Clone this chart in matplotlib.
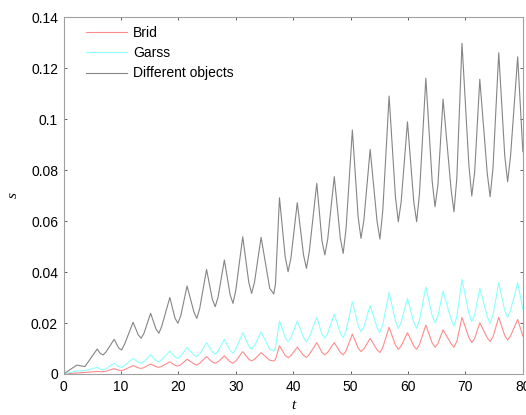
import matplotlib
matplotlib.use("Agg")
import matplotlib.pyplot as plt

# Shared sample times (peaks, troughs and trough shoulders)
t = [0, 2.3, 3.7, 5.85,
     6.4, 6.9, 7.4, 8.8,
     9.6, 10.1, 10.6, 12.1,
     13.0, 13.5, 14.0, 15.15,
     16.1, 16.6, 17.1, 18.5,
     19.4, 19.9, 20.4, 21.5,
     22.7, 23.2, 23.7, 24.9,
     25.9, 26.4, 26.9, 28.0,
     29.0, 29.5, 30.0, 31.2,
     32.25, 32.75, 33.25, 34.4,
     35.9, 36.6, 36.9, 37.6,
     38.6, 39.1, 39.6, 40.7,
     41.8, 42.3, 42.8, 44.1,
     45.0, 45.5, 46.0, 47.15,
     48.2, 48.7, 49.2, 50.3,
     51.3, 51.8, 52.3, 53.4,
     54.6, 55.1, 55.6, 56.7,
     57.8, 58.3, 58.8, 59.9,
     61.0, 61.5, 62.0, 63.1,
     64.2, 64.7, 65.2, 66.1,
     67.5, 68.0, 68.5, 69.4,
     70.6, 71.1, 71.6, 72.5,
     73.8, 74.3, 74.8, 75.8,
     76.85, 77.35, 77.85, 79.1,
     80]

different = [0, 0.0035, 0.0029, 0.0098,
             0.0080, 0.0075, 0.0087, 0.0136,
             0.0102, 0.0094, 0.0116, 0.0203,
             0.0153, 0.0140, 0.0160, 0.0238,
             0.0176, 0.0160, 0.0188, 0.0300,
             0.0219, 0.0199, 0.0228, 0.0345,
             0.0243, 0.0218, 0.0256, 0.0410,
             0.0293, 0.0264, 0.0301, 0.0447,
             0.0311, 0.0277, 0.0329, 0.0538,
             0.0360, 0.0316, 0.0360, 0.0536,
             0.0336, 0.0314, 0.0352, 0.0691,
             0.0459, 0.0401, 0.0455, 0.0672,
             0.0466, 0.0414, 0.0481, 0.0748,
             0.0523, 0.0467, 0.0528, 0.0774,
             0.0533, 0.0473, 0.0570, 0.0957,
             0.0617, 0.0532, 0.0602, 0.0881,
             0.0599, 0.0529, 0.0641, 0.1090,
             0.0696, 0.0597, 0.0675, 0.0989,
             0.0675, 0.0597, 0.0710, 0.1160,
             0.0757, 0.0656, 0.0740, 0.1078,
             0.0724, 0.0636, 0.0768, 0.1297,
             0.0818, 0.0698, 0.0790, 0.1156,
             0.0787, 0.0695, 0.0808, 0.1260,
             0.0855, 0.0754, 0.0852, 0.1244,
             0.0872]

garss = [0, 0.0012, 0.0013, 0.0026,
         0.0018, 0.0016, 0.0021, 0.0042,
         0.0029, 0.0026, 0.0033, 0.0061,
         0.0046, 0.0042, 0.0049, 0.0075,
         0.0053, 0.0048, 0.0056, 0.0090,
         0.0067, 0.0061, 0.0070, 0.0104,
         0.0075, 0.0068, 0.0079, 0.0123,
         0.0087, 0.0078, 0.0090, 0.0136,
         0.0092, 0.0081, 0.0097, 0.0162,
         0.0110, 0.0097, 0.0111, 0.0165,
         0.0098, 0.0090, 0.0102, 0.0208,
         0.0143, 0.0127, 0.0143, 0.0207,
         0.0143, 0.0127, 0.0146, 0.0222,
         0.0156, 0.0140, 0.0159, 0.0235,
         0.0161, 0.0142, 0.0170, 0.0284,
         0.0190, 0.0166, 0.0186, 0.0268,
         0.0183, 0.0162, 0.0194, 0.0320,
         0.0207, 0.0179, 0.0203, 0.0297,
         0.0203, 0.0179, 0.0212, 0.0342,
         0.0229, 0.0201, 0.0226, 0.0325,
         0.0215, 0.0188, 0.0225, 0.0371,
         0.0238, 0.0205, 0.0231, 0.0336,
         0.0226, 0.0199, 0.0231, 0.0358,
         0.0249, 0.0222, 0.0249, 0.0358,
         0.0254]

brid = [0, 0.0004, 0.0006, 0.0010,
        0.0009, 0.0009, 0.0011, 0.0021,
        0.0015, 0.0013, 0.0017, 0.0033,
        0.0024, 0.0022, 0.0025, 0.0039,
        0.0029, 0.0026, 0.0030, 0.0048,
        0.0034, 0.0031, 0.0036, 0.0058,
        0.0040, 0.0035, 0.0042, 0.0068,
        0.0047, 0.0042, 0.0048, 0.0071,
        0.0048, 0.0042, 0.0051, 0.0088,
        0.0058, 0.0051, 0.0058, 0.0084,
        0.0054, 0.0051, 0.0057, 0.0111,
        0.0073, 0.0064, 0.0072, 0.0105,
        0.0073, 0.0065, 0.0077, 0.0123,
        0.0085, 0.0075, 0.0085, 0.0123,
        0.0085, 0.0075, 0.0091, 0.0157,
        0.0102, 0.0088, 0.0098, 0.0140,
        0.0095, 0.0084, 0.0104, 0.0183,
        0.0114, 0.0097, 0.0110, 0.0162,
        0.0110, 0.0097, 0.0116, 0.0192,
        0.0122, 0.0105, 0.0119, 0.0173,
        0.0119, 0.0105, 0.0128, 0.0222,
        0.0143, 0.0123, 0.0139, 0.0201,
        0.0142, 0.0127, 0.0146, 0.0222,
        0.0151, 0.0133, 0.0149, 0.0214,
        0.0149]

labels = ["Brid", "Garss", "Different objects"]
xticks = [0, 10, 20, 30, 40, 50, 60, 70, 80]
yticks = [0, 0.02, 0.04, 0.06, 0.08, 0.10, 0.12, 0.14]
yticklabels = ["0", "0.02", "0.04", "0.06", "0.08", "0.1", "0.12", "0.14"]

plt.rcParams['font.family'] = ['Liberation Sans', 'DejaVu Sans']

fig = plt.figure(figsize=(5.26, 4.15), dpi=100)
ax = fig.add_axes([0.121, 0.0988, 0.873, 0.8602])

ax.plot(t, brid, color='#ff8c8c', lw=0.8, label=labels[0])
ax.plot(t, garss, color='#8cffff', lw=0.8, label=labels[1])
ax.plot(t, different, color='#858585', lw=0.8, label=labels[2])

ax.set_xlim(0, 80)
ax.set_ylim(0, 0.14)
ax.set_xticks(xticks)
ax.set_xticklabels([str(v) for v in xticks])
ax.set_yticks(yticks)
ax.set_yticklabels(yticklabels)

ax.tick_params(direction='in', length=2.5, width=0.6, top=True, right=True,
               labelsize=10, colors='#444444', labelcolor='black', pad=4)
for sp in ax.spines.values():
    sp.set_color('#a0a0a0')
    sp.set_linewidth(0.8)

ax.set_xlabel('t', fontsize=11, style='italic', family='Liberation Serif', labelpad=4)
ax.set_ylabel('s', fontsize=11, style='italic', family='Liberation Serif', labelpad=8)

leg = ax.legend(loc='upper left', bbox_to_anchor=(0.048, 0.975), frameon=False,
                fontsize=10, handlelength=3.0, handletextpad=0.4,
                labelspacing=0.45, borderpad=0, borderaxespad=0)

fig.savefig('out.png', dpi=100)
